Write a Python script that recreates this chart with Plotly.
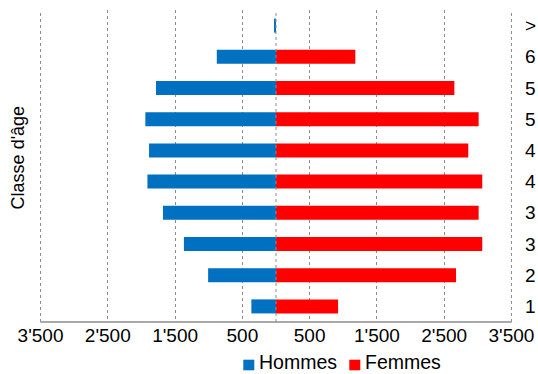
import plotly.graph_objects as go

# Age classes, bottom to top
categories = ["1", "2", "3", "3", "4", "4", "5", "5", "6", ">"]
hommes = [366, 1009, 1369, 1680, 1911, 1887, 1942, 1784, 880, 30]
femmes = [923, 2676, 3066, 3012, 3066, 2858, 3012, 2651, 1179, 0]
tick_vals = [-3500, -2500, -1500, -500, 500, 1500, 2500, 3500]
tick_text = ["3'500", "2'500", "1'500", "500", "500", "1'500", "2'500", "3'500"]
series_names = ["Hommes", "Femmes"]

BLUE = "#0070C0"
RED = "#FF0000"
GRID = "#8c8c8c"
FONT = "Liberation Sans, Arial, sans-serif"

W, H = 538, 374
M = dict(l=40, r=26, t=10, b=52)
PW, PH = W - M["l"] - M["r"], H - M["t"] - M["b"]


def px_x(px):
    return (px - M["l"]) / PW


def px_y(py):
    return (H - M["b"] - py) / PH


pos = list(range(len(categories)))

fig = go.Figure()
fig.add_trace(go.Bar(
    y=pos, x=[-v for v in hommes], orientation="h", name=series_names[0],
    marker=dict(color=BLUE, line=dict(width=0)), width=0.45, showlegend=False,
))
fig.add_trace(go.Bar(
    y=pos, x=femmes, orientation="h", name=series_names[1],
    marker=dict(color=RED, line=dict(width=0)), width=0.45, showlegend=False,
))

# dotted vertical guides at the outer edges and at the centre, plus base line
shapes = [
    dict(type="line", xref="x", yref="paper", x0=v, x1=v, y0=0, y1=1,
         line=dict(color=GRID, width=1, dash="dot"), layer="above")
    for v in (tick_vals[0], 0, tick_vals[-1])
]
shapes.append(dict(
    type="line", xref="x", yref="paper", x0=tick_vals[0], x1=tick_vals[-1],
    y0=0, y1=0, line=dict(color=GRID, width=1.5), layer="above",
))

annotations = [dict(
    text="Classe d'âge", xref="paper", yref="paper",
    x=-0.047, y=0.527, xanchor="center", yanchor="middle",
    textangle=-90, showarrow=False, font=dict(size=18),
)]

# compact legend below the axis: colour key squares with their labels
legend_items = [(series_names[0], BLUE, 243.3), (series_names[1], RED, 349.3)]
for name, color, left in legend_items:
    shapes.append(dict(
        type="rect", xref="paper", yref="paper",
        x0=px_x(left), x1=px_x(left + 11), y0=px_y(370.3), y1=px_y(359.7),
        fillcolor=color, line=dict(width=0),
    ))
    annotations.append(dict(
        text=name, xref="paper", yref="paper",
        x=px_x(left + 14.5), y=px_y(373.5), xanchor="left", yanchor="bottom",
        showarrow=False, font=dict(size=19.5), borderpad=0,
    ))

fig.update_layout(
    width=W, height=H,
    margin=dict(**M, autoexpand=False),
    paper_bgcolor="white", plot_bgcolor="white",
    barmode="overlay",
    font=dict(family=FONT, size=19, color="black"),
    showlegend=False,
    xaxis=dict(
        range=[-3508, 3508], tickvals=tick_vals, ticktext=tick_text,
        showgrid=True, gridcolor=GRID, griddash="dot", gridwidth=1,
        zeroline=False, showline=False,
        ticks="", tickfont=dict(size=19),
    ),
    yaxis=dict(
        range=[-0.5, len(categories) - 0.5], tickvals=pos, ticktext=categories,
        side="right", showgrid=False, zeroline=False, showline=False,
        ticks="", ticklabelstandoff=12, tickfont=dict(size=19),
    ),
    shapes=shapes,
    annotations=annotations,
)

fig.write_html("out.html")
